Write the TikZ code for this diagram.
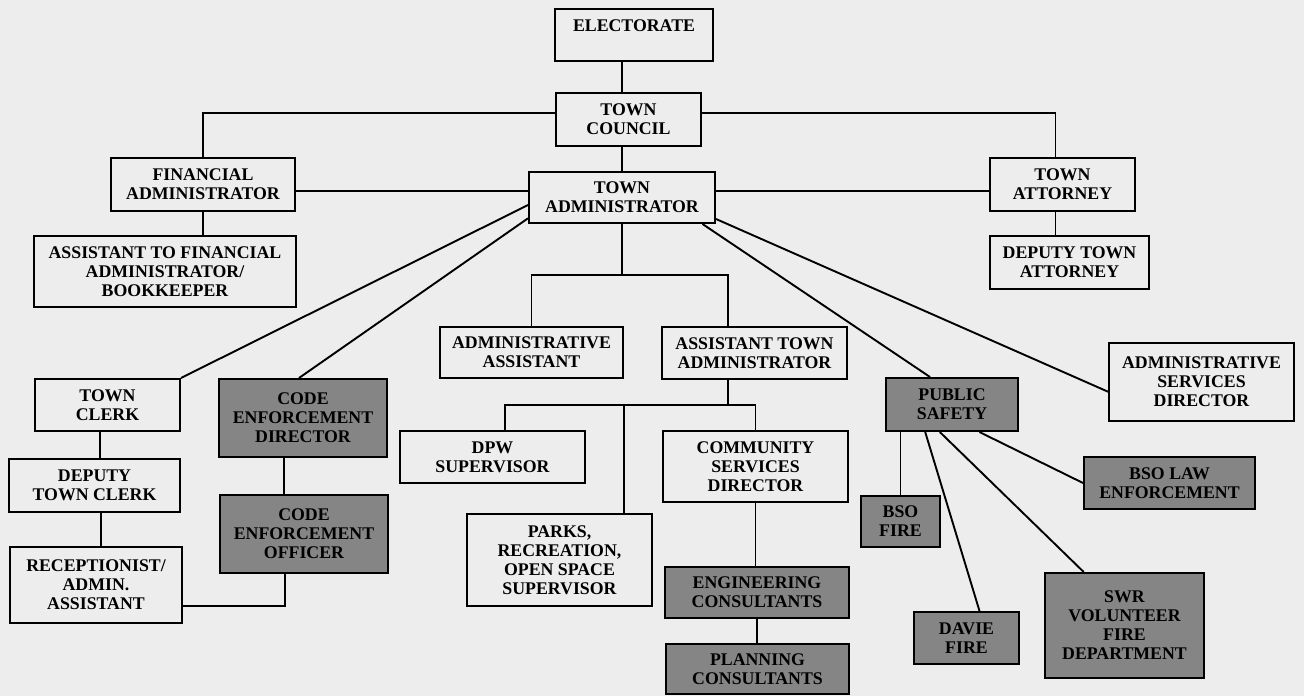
\documentclass[tikz,border=0pt]{standalone}
\usepackage{fontspec}
\setmainfont{Liberation Serif}
\usetikzlibrary{calc}
\begin{document}
\begin{tikzpicture}[x=1pt,y=-1pt,
  bg/.style={fill=black!7},
  box/.style={draw=black,line width=2pt,fill=black!7,inner sep=0pt,align=center,
    font=\fontsize{17.8}{19}\selectfont\bfseries},
  shaded/.style={box,fill=black!48},
  link/.style={draw=black,line width=1.9pt}]
\fill[bg] (0,0) rectangle (1304,696);
\useasboundingbox (0,0) rectangle (1304,696);
% boxes
\node[box,minimum width=158pt,minimum height=52pt] (elect) at (634,35) {ELECTORATE\\\phantom{E}};
\node[box,minimum width=145pt,minimum height=53pt] (council) at (628.5,119.5) {TOWN\\COUNCIL};
\node[box,minimum width=184pt,minimum height=53pt] (fin) at (203,184.5) {FINANCIAL\\ADMINISTRATOR};
\node[box,minimum width=186pt,minimum height=51pt] (admin) at (622,197.5) {TOWN\\ADMINISTRATOR};
\node[box,minimum width=145pt,minimum height=53pt] (atty) at (1062.5,184.5) {TOWN\\ATTORNEY};
\node[box,minimum width=159pt,minimum height=53pt] (datty) at (1069.5,262.5) {DEPUTY TOWN\\ATTORNEY};
\node[box,minimum width=262pt,minimum height=71pt] (asstfin) at (165,271.5) {ASSISTANT TO FINANCIAL\\ADMINISTRATOR/\\BOOKKEEPER};
\node[box,minimum width=183pt,minimum height=51pt] (adasst) at (531.5,352.5) {ADMINISTRATIVE\\ASSISTANT};
\node[box,minimum width=185pt,minimum height=52pt] (ata) at (754.5,353) {ASSISTANT TOWN\\ADMINISTRATOR};
\node[box,minimum width=185pt,minimum height=78pt] (asd) at (1201.5,382) {ADMINISTRATIVE\\SERVICES\\DIRECTOR};
\node[box,minimum width=145pt,minimum height=52pt] (clerk) at (107.5,405) {TOWN\\CLERK};
\node[shaded,minimum width=168pt,minimum height=78pt] (ced) at (303,418) {CODE\\ENFORCEMENT\\DIRECTOR};
\node[box,minimum width=171pt,minimum height=53pt] (dclerk) at (94.5,485.5) {DEPUTY\\TOWN CLERK};
\node[shaded,minimum width=168pt,minimum height=78pt] (ceo) at (304,534) {CODE\\ENFORCEMENT\\OFFICER};
\node[box,minimum width=172pt,minimum height=76pt] (recep) at (96,585) {RECEPTIONIST/\\ADMIN.\\ASSISTANT};
\node[box,minimum width=185pt,minimum height=52pt] (dpw) at (492.5,457) {DPW\\SUPERVISOR};
\node[box,minimum width=185pt,minimum height=92pt] (parks) at (559.5,560) {PARKS,\\RECREATION,\\OPEN SPACE\\SUPERVISOR};
\node[box,minimum width=185pt,minimum height=71pt] (csd) at (755.5,466.5) {COMMUNITY\\SERVICES\\DIRECTOR};
\node[shaded,minimum width=184pt,minimum height=51pt] (eng) at (757,592.5) {ENGINEERING\\CONSULTANTS};
\node[shaded,minimum width=183pt,minimum height=50pt] (plan) at (757.5,669) {PLANNING\\CONSULTANTS};
\node[shaded,minimum width=132pt,minimum height=53pt] (ps) at (952,404.5) {PUBLIC\\SAFETY};
\node[shaded,minimum width=79pt,minimum height=51pt] (bsofire) at (900.5,521.5) {BSO\\FIRE};
\node[shaded,minimum width=105pt,minimum height=52pt] (davie) at (966.5,638) {DAVIE\\FIRE};
\node[shaded,minimum width=159pt,minimum height=105pt] (swr) at (1124.5,625.5) {SWR\\VOLUNTEER\\FIRE\\DEPARTMENT};
\node[shaded,minimum width=171pt,minimum height=52pt] (bsolaw) at (1169.5,483) {BSO LAW\\ENFORCEMENT};
% junctions
\coordinate (j1) at (622,275);
\coordinate (j2) at (728,405);
% connectors
\draw[link] (admin.north |- elect.south) -- (admin.north |- council.north);
\draw[link] (admin.north |- council.south) -- (admin.north);
\draw[link] ([yshift=6.8pt]council.west) -| (fin.north);
\draw[link] ([yshift=6.8pt]council.east) -| ([xshift=-7pt]atty.north);
\draw[link] ([yshift=-6.2pt]fin.east) -- ([yshift=-6.2pt]fin.east -| admin.west);
\draw[link] ([yshift=-6.2pt]atty.west) -- ([yshift=-6.2pt]atty.west -| admin.east);
\draw[link] ([xshift=-7pt]atty.south) -- ([xshift=-7pt]atty.south |- datty.north);
\draw[link] (fin.south) -- (fin.south |- asstfin.north);
\draw[link] (admin.south) -- (j1);
\draw[link] (adasst.north) |- (j1) -| ([xshift=-26.5pt]ata.north);
\draw[link] ([yshift=-7.5pt]admin.west) -- (clerk.north east);
\draw[link] ([yshift=-20.8pt]admin.west) -- ([xshift=-4pt]ced.north);
\draw[link] ([xshift=80.5pt]admin.south) -- ([xshift=-22pt]ps.north);
\draw[link] ([yshift=5pt]admin.south east) -- ([yshift=-9.7pt]asd.west);
\draw[link] ([xshift=-26.5pt]ata.south) -- (j2);
\draw[link] ([xshift=12.5pt]dpw.north) |- (j2) -| (csd.north);
\draw[link] ([xshift=64.5pt]parks.north) -- ([xshift=64.5pt]parks.north |- j2);
\draw[link] (csd.south) -- (csd.south |- eng.north);
\draw[link] (eng.south) -- (eng.south |- plan.north);
\draw[link] ([xshift=-7.5pt]clerk.south) -- ([xshift=-7.5pt]clerk.south |- dclerk.north);
\draw[link] ([xshift=6.5pt]dclerk.south) -- ([xshift=6.5pt]dclerk.south |- recep.north);
\draw[link] ([xshift=-19pt]ced.south) -- ([xshift=-19pt]ced.south |- ceo.north);
\draw[link] ([yshift=-20.7pt]recep.east) -| ([xshift=-19pt]ceo.south);
\draw[link] (bsofire.north |- ps.south) -- (bsofire.north);
\draw[link] ([xshift=-26.8pt]ps.south) -- ([xshift=13pt]davie.north);
\draw[link] ([xshift=-12.2pt]ps.south) -- ([xshift=-40.8pt]swr.north);
\draw[link] ([xshift=27.4pt]ps.south) -- (bsolaw.west);
\end{tikzpicture}
\end{document}
